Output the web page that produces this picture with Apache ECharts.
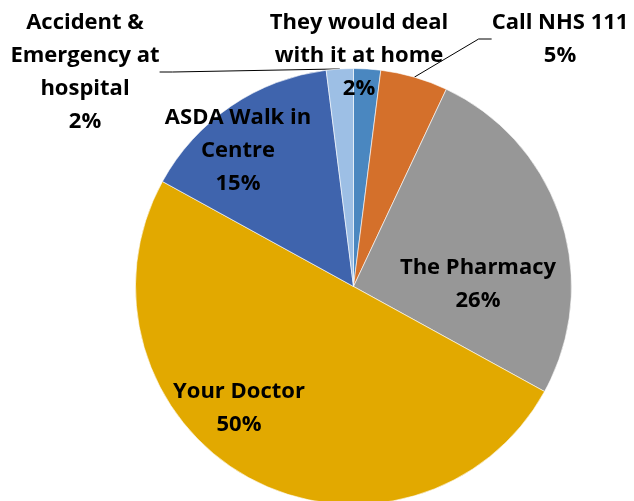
<!DOCTYPE html>
<html>
<head>
<meta charset="utf-8">
<script src="https://cdn.jsdelivr.net/npm/echarts@6/dist/echarts.min.js"></script>
<style>
  html, body { margin: 0; padding: 0; background: #fff; }
  #chart { width: 634px; height: 501px; }
</style>
</head>
<body>
<div id="chart"></div>
<script>
// Where people would go first for a minor health problem (percent of responses)
const categories = [
  'They would deal\nwith it at home',
  'Call NHS 111',
  'The Pharmacy',
  'Your Doctor',
  'ASDA Walk in\nCentre',
  'Accident &\nEmergency at\nhospital'
];
const percents = [2, 5, 26, 50, 15, 2];

// Slice colours, in category order
const sliceColors = ['#4A87C0', '#D4702B', '#979797', '#E2A900', '#3F64AD', '#9DBFE5'];

// Label anchor points (label centre) and whether a leader line is drawn
const labelSpots = [
  [359, 56], [560, 39], [478, 284], [239, 408], [238, 151], [85, 72]
];
const leaderLines = [false, true, false, false, false, true];

const chart = echarts.init(document.getElementById('chart'), null, { renderer: 'canvas' });

chart.setOption({
  animation: false,
  series: [{
    type: 'pie',
    center: [353.5, 286.5],
    radius: 218,
    startAngle: 90,
    clockwise: true,
    avoidLabelOverlap: false,
    itemStyle: { borderColor: '#ffffff', borderWidth: 0.6 },
    label: {
      show: true,
      position: 'outside',
      fontFamily: 'Open Sans',
      fontWeight: 'bold',
      fontSize: 22,
      lineHeight: 33,
      color: '#000000',
      align: 'center',
      formatter: p => p.name + '\n' + p.value + '%'
    },
    labelLine: {
      show: true,
      length: 10,
      length2: 13,
      lineStyle: { color: '#000000', width: 1 }
    },
    labelLayout: p => ({
      x: labelSpots[p.dataIndex][0],
      y: labelSpots[p.dataIndex][1],
      align: 'center',
      verticalAlign: 'middle'
    }),
    data: categories.map((name, i) => ({
      name: name,
      value: percents[i],
      itemStyle: { color: sliceColors[i] },
      labelLine: { show: leaderLines[i] }
    }))
  }]
});
</script>
</body>
</html>
